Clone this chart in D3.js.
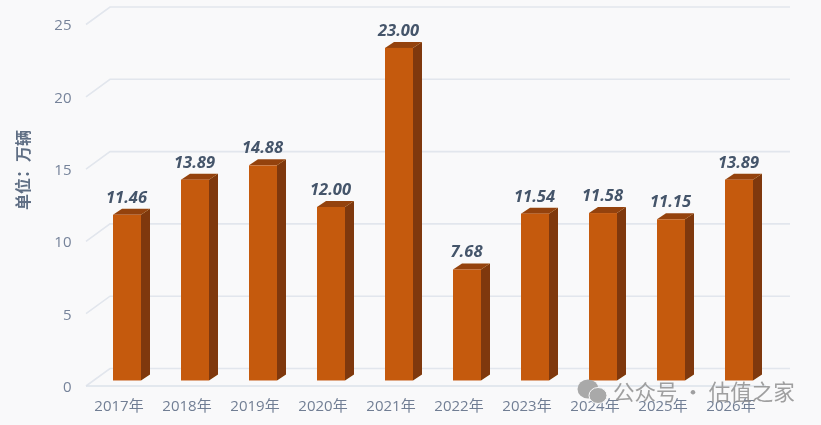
<!DOCTYPE html>
<html><head><meta charset="utf-8">
<script src="https://cdn.jsdelivr.net/npm/d3@7/dist/d3.min.js"></script>
<style>html,body{margin:0;padding:0;background:#f9f9fa}svg{display:block}</style>
</head><body><div id="c"></div>
<script>
const categories=["2017年","2018年","2019年","2020年","2021年","2022年","2023年","2024年","2025年","2026年"];
const values=[11.46,13.89,14.88,12.00,23.00,7.68,11.54,11.58,11.15,13.89];
const yTicks=[0,5,10,15,20,25];
const unitLabel="单位：万辆";
const watermark="公众号 · 估值之家";

const W=821,H=425;
const svg=d3.select("#c").append("svg").attr("width",W).attr("height",H);
const defs=svg.append("defs");
defs.append("filter").attr("id","soft").append("feGaussianBlur").attr("stdDeviation",0.5);
defs.append("filter").attr("id","softer").append("feGaussianBlur").attr("stdDeviation",0.35);
const sans="'Open Sans','Noto Sans CJK SC',sans-serif";
svg.append("rect").attr("width",W).attr("height",H).attr("fill","#f9f9fa");

const x=d3.scaleBand().domain(categories).range([86,766]);
const y=d3.scaleLinear().domain([0,25]).range([380.5,19]);
const floorDrop=5.5,wallRise=12,wallShift=24,wallEnd=790;
const barW=28,depthX=9,depthY=6,barShift=7;

const grid=svg.append("g").attr("filter","url(#softer)");
yTicks.forEach(t=>{
  const yf=y(t)+floorDrop,yb=y(t)-wallRise,xl=x.range()[0];
  grid.append("path")
    .attr("d",`M${xl},${yf}L${xl+wallShift},${yb}L${wallEnd},${yb}`)
    .attr("fill","none").attr("stroke","#e2e6ed").attr("stroke-width",1.6);
});
grid.append("path")
  .attr("d",`M${x.range()[0]},${y(0)+floorDrop}L${x.range()[1]},${y(0)+floorDrop}`)
  .attr("stroke","#dde2ea").attr("stroke-width",1.6);

const bars=svg.append("g").attr("filter","url(#softer)").selectAll("g").data(categories).join("g");
bars.each(function(c,i){
  const g=d3.select(this),l=x(c)+x.bandwidth()/2+barShift-barW/2,r=l+barW,t=y(values[i]),b=y(0);
  g.append("path").attr("fill","#7f3907")
    .attr("d",`M${r},${t}L${r+depthX},${t-depthY}L${r+depthX},${b-depthY}L${r},${b}Z`);
  g.append("path").attr("fill","#94430a")
    .attr("d",`M${l},${t}L${l+depthX},${t-depthY}L${r+depthX},${t-depthY}L${r},${t}Z`);
  g.append("rect").attr("x",l).attr("y",t).attr("width",barW).attr("height",b-t).attr("fill","#c55a11");
});

const txt=svg.append("g").attr("filter","url(#softer)").attr("font-family",sans);
txt.selectAll(".val").data(categories).join("text")
  .attr("x",c=>x(c)+x.bandwidth()/2+barShift-0.5)
  .attr("y",(c,i)=>y(values[i])-depthY-6)
  .attr("text-anchor","middle").attr("font-size",16.5).attr("font-weight",700)
  .attr("font-style","italic").attr("fill","#44546a").text((c,i)=>values[i].toFixed(2));
txt.selectAll(".yt").data(yTicks).join("text")
  .attr("x",71.5).attr("y",t=>y(t)+floorDrop+0.5)
  .attr("dy","0.36em").attr("text-anchor","end").attr("font-size",15).attr("fill","#76839a").text(t=>t);
txt.selectAll(".xt").data(categories).join("text")
  .attr("x",c=>x(c)+x.bandwidth()/2-1).attr("y",411)
  .attr("text-anchor","middle").attr("font-size",15).attr("fill","#717e94").text(c=>c);
txt.append("text").attr("transform","translate(29,170) rotate(-90)")
  .attr("text-anchor","middle").attr("font-size",16).attr("font-weight",700)
  .attr("font-family","'Noto Sans CJK SC',sans-serif").attr("fill","#5f6e84").text(unitLabel);

const wm=svg.append("g").attr("filter","url(#soft)");
wm.append("ellipse").attr("cx",588).attr("cy",389).attr("rx",10.5).attr("ry",9.5).attr("fill","#a9a9a9");
wm.append("ellipse").attr("cx",598).attr("cy",395.5).attr("rx",9).attr("ry",8).attr("fill","#a9a9a9").attr("stroke","#f9f9fa").attr("stroke-width",1);
wm.append("text").attr("x",613).attr("y",400).attr("font-size",21.5)
  .attr("font-family","'Noto Sans CJK SC',sans-serif").attr("fill","#8f8f8f").attr("fill-opacity",.85).text(watermark);
</script></body></html>
